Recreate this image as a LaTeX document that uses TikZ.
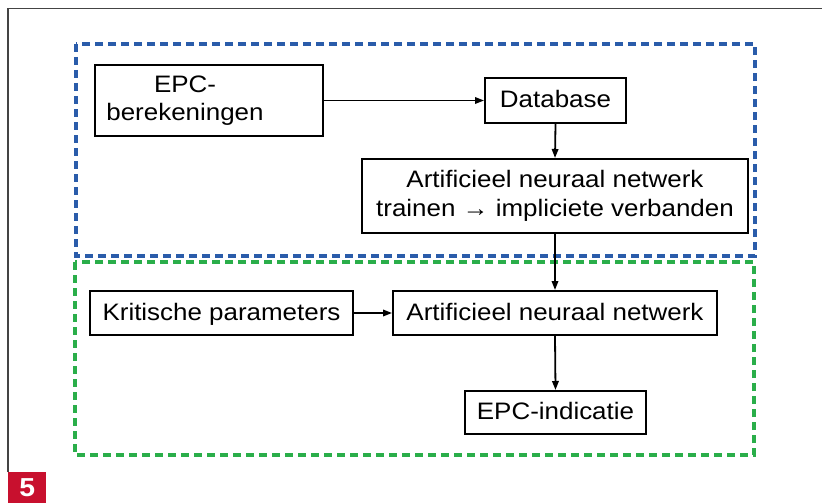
\documentclass[tikz,border=0pt]{standalone}
\usepackage{fontspec}
\setmainfont{Liberation Sans}[FakeStretch=1.09]
\usetikzlibrary{arrows.meta}
\definecolor{frameg}{HTML}{444444}
\definecolor{blueb}{HTML}{2A5CAA}
\definecolor{greenb}{HTML}{2AAE4A}
\definecolor{redb}{HTML}{C8102E}
\tikzset{
  box/.style={draw, line width=2pt, inner sep=0pt, align=center,
    font=\fontsize{23.8pt}{29.5pt}\selectfont},
  oneline/.style={text height=17pt, text depth=2.6pt},
  conn/.style={line width=1.8pt, -{Triangle[length=9pt,width=6.5pt]}},
  group/.style={line width=3.2pt, dash pattern=on 8pt off 5pt},
}
\begin{document}
\begin{tikzpicture}[x=1pt,y=-1pt]
\useasboundingbox (0,0) rectangle (822,503);
\fill[white] (0,0) rectangle (822,503);
% frame
\draw[frameg, line width=1.8pt] (8,472) -- (8,8.5) -- (822,8.5);
\node[fill=redb, minimum width=38pt, minimum height=31pt, inner sep=0pt, anchor=north west,
  text=white, font=\fontsize{26pt}{30pt}\selectfont\bfseries] (num) at (8,472) {5};
% groups
\draw[group, blueb] (76,44) rectangle (755,256);
\draw[group, greenb] (75,262) rectangle (754,455);
% nodes
\node[box, minimum width=228pt, minimum height=71pt] (epc) at (209,100.5) {};
\node[align=center, inner sep=0pt, font=\fontsize{23.8pt}{28pt}\selectfont] (epct) at (185,101) {EPC-\\berekeningen};
\node[box, oneline, minimum width=141pt, minimum height=45pt] (db) at (555.5,100.5) {Database};
\node[box, minimum width=386pt, minimum height=74pt] (annt) at (555,196) {Artificieel neuraal netwerk\\trainen → impliciete verbanden};
\node[box, oneline, minimum width=263pt, minimum height=44pt] (krit) at (221.5,313) {Kritische parameters};
\node[box, oneline, minimum width=324pt, minimum height=44pt] (ann) at (555,313) {Artificieel neuraal netwerk};
\node[box, oneline, minimum width=181pt, minimum height=43pt] (ind) at (555.5,412.5) {EPC-indicatie};
% connectors
\draw[conn] (epc.east) -- (db.west);
\draw[conn] (db.south) -- (annt.north);
\draw[conn] (annt.south) -- (ann.north);
\draw[conn] (krit.east) -- (ann.west);
\draw[conn] (ann.south) -- (ind.north);
\end{tikzpicture}
\end{document}
